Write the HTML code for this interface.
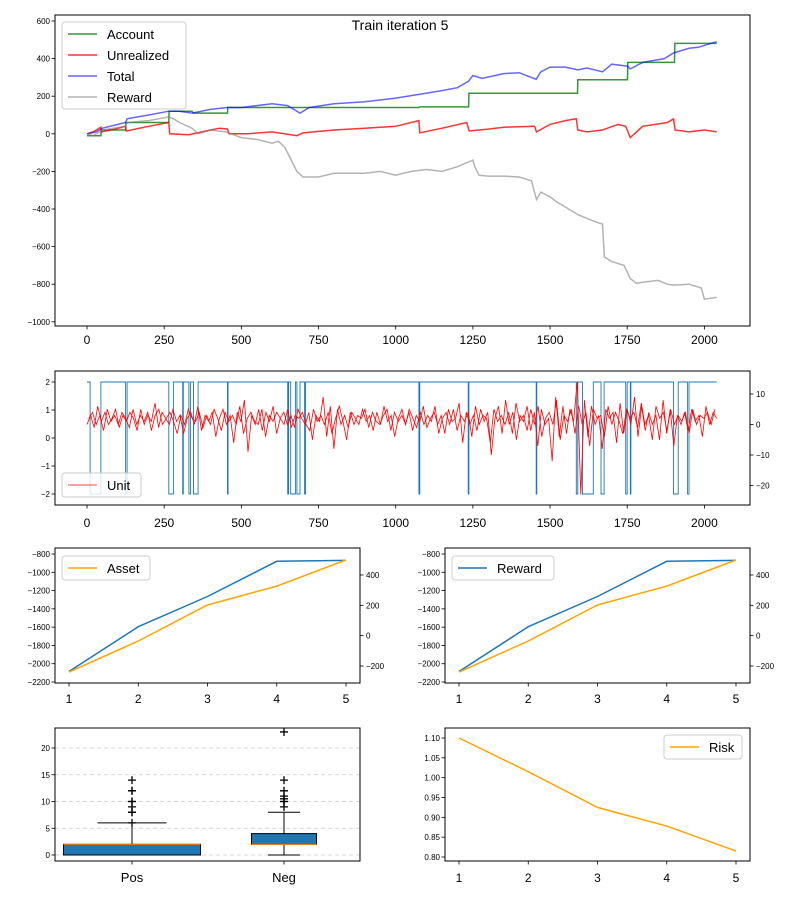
<!DOCTYPE html>
<html><head><meta charset="utf-8">
<style>
html,body{margin:0;padding:0;background:#fff;}
svg{display:block;font-family:"Liberation Sans","DejaVu Sans",sans-serif;}
</style></head>
<body>
<svg id="fig" width="800" height="900" viewBox="0 0 800 900" xmlns="http://www.w3.org/2000/svg">
<rect width="800" height="900" fill="#fff"/>
<text x="400" y="30" text-anchor="middle" font-size="14">Train iteration 5</text>
</svg>
<script>
// ---------- data ----------
const accountX = [0,45,46,125,126,265,266,340,345,455,456,1075,1078,1236,1237,1589,1590,1751,1752,1903,1904,2040];
const accountV = [-10,-10,20,20,60,60,120,120,110,110,140,140,143,143,216,216,287,287,380,380,481,481];
const unrealX = [0,20,45,47,90,125,127,200,265,268,330,400,430,455,460,520,600,680,700,800,900,1000,1075,1078,1150,1230,1238,1300,1350,1450,1456,1500,1550,1585,1590,1620,1670,1720,1745,1760,1800,1880,1900,1905,1950,2000,2040];
const unrealV = [0,10,35,10,25,40,15,40,60,0,-5,20,30,25,0,0,10,-10,5,20,30,40,70,5,30,60,15,25,35,40,10,50,70,80,20,10,20,50,40,-20,40,60,80,20,10,20,10];
const totalX = [0,30,50,100,125,130,200,265,300,340,400,455,500,600,650,690,720,800,900,1000,1078,1150,1200,1236,1250,1280,1350,1400,1455,1470,1500,1550,1590,1620,1670,1700,1750,1760,1800,1870,1900,1950,1980,2040];
const totalV = [0,10,30,50,60,80,100,120,120,110,130,140,140,160,150,110,140,160,170,190,210,230,245,280,310,295,320,325,290,330,355,355,340,350,330,370,360,345,380,400,430,455,460,490];
const rewardX = [0,20,50,125,130,200,265,280,300,340,360,400,450,500,550,600,620,640,680,700,750,800,900,950,1000,1050,1100,1150,1200,1250,1255,1270,1300,1350,1400,1440,1456,1470,1500,1520,1560,1590,1620,1650,1670,1676,1700,1740,1760,1780,1800,1850,1880,1900,1950,1990,2000,2040];
const rewardV = [0,-10,20,40,60,70,90,80,60,30,0,20,10,-20,-30,-50,-40,-70,-200,-230,-230,-210,-210,-200,-220,-200,-190,-200,-175,-140,-170,-220,-225,-225,-230,-250,-350,-310,-335,-360,-400,-430,-450,-470,-480,-655,-680,-700,-770,-795,-790,-780,-800,-805,-800,-820,-880,-870];
const yTicksTop = [600,400,200,0,-200,-400,-600,-800,-1000];
const xTicksTop = [0,250,500,750,1000,1250,1500,1750,2000];
// panel 2
const unitNegStart = [10,125,265,310,330,345,455,650,660,680,705,1075,1235,1455,1585,1605,1665,1745,1760,1900,1945];
const unitNegEnd =   [45,130,280,312,335,360,457,653,675,690,708,1078,1237,1457,1590,1640,1675,1750,1762,1915,1950];
const noiseV = [0,3,-1,6,1,4,0,2,5,-1,3,1,4,2,-2,5,0,3,1,7,-1,4,2,0,5,1,3,-3,2,4,0,6,-2,3,1,4,-4,2,5,0,3,-6,4,1,8,-9,3,0,5,-2,4,1,6,-3,2,4,0,3,-1,5,2,0,4,-5,3,1,9,-4,6,-8,5,0,3,-1,4,2,0,5,1,3,-2,4,0,6,1,3,-4,2,5,0,4,-2,3,1,6,-1,2,4,0,3,-3,5,1,2,7,-6,4,0,3,-2,5,1,4,-10,2,6,-3,8,0,4,-5,3,1,6,-2,4,-7,5,0,2,-12,9,-4,6,-3,5,1,14,-23,8,-4,6,0,3,-8,5,2,4,-6,7,-3,5,0,9,-4,6,-2,4,0,3,-5,8,-3,5,-7,3,0,4,-2,5,1,3,-4,6,0,4,2];
const noiseV2 = [2,4,0,3,-2,5,1,3,0,4,2,-1,5,0,3,1,4,-2,3,5,0,2,4,1,-3,3,0,5,2,1,4,-1,3,0,5,2,-2,4,1,3,0,6,-3,2,4,1,0,5,-4,3,1,4,2,0,5,-1,3,2,4,0,-2,5,1,3,0,4,-3,2,6,1,-5,4,0,3,2,5,-1,4,1,0,3,5,-2,4,1,3,0,5,2,-1,4,0,3,1,6,-3,2,4,0,5,-2,3,1,4,-4,6,0,3,2,-6,5,1,3,0,4,-3,7,1,3,-2,5,0,6,-4,2,4,0,8,-5,3,1,5,-3,6,0,4,-7,5,2,3,-4,6,0,4,1,-3,5,2,4,-1,7,0,3,-5,6,2,4,-2,5,0,3,1,4,-3,5,0,3,2,4,0,5];
const yTicksP2L = [2,1,0,-1,-2];
const yTicksP2R = [10,0,-10,-20];
// row 3
const iters = [1,2,3,4,5];
const rewardSum = [-2085,-1595,-1265,-880,-870];
const assetSum = [-240,-35,202,327,499];
const yTicksR3L = [-800,-1000,-1200,-1400,-1600,-1800,-2000,-2200];
const yTicksR3R = [400,200,0,-200];
// row 4
const boxLabels = ['Pos','Neg'];
const boxQ1 = [0,2], boxMed = [2,2], boxQ3 = [2,4], boxLo = [0,0], boxHi = [6,8];
const posOutliers = [6,8,8,9,10,10,12,12,14];
const negOutliers = [9,10,10,10.5,11,12,14,23];
const yTicksBox = [0,5,10,15,20];
const riskV = [1.10,1.015,0.925,0.878,0.815];
const yTicksRisk = [1.10,1.05,1.00,0.95,0.90,0.85,0.80];

// ---------- helpers ----------
const NS='http://www.w3.org/2000/svg';
const svg=document.getElementById('fig');
function mk(tag,attrs,parent){const e=document.createElementNS(NS,tag);for(const k in attrs)e.setAttribute(k,attrs[k]);(parent||svg).appendChild(e);return e;}
function txt(x,y,s,size,anchor,parent){const t=mk('text',{x:x,y:y,'font-size':size,'text-anchor':anchor||'middle',fill:'#000'},parent);t.textContent=s;return t;}
function fmt(v){return v<0?'\u2212'+Math.abs(v):String(v);}
function frame(x0,y0,x1,y1,name){const r=mk('rect',{x:x0,y:y0,width:x1-x0,height:y1-y0,fill:'none',stroke:'#000','stroke-width':1});}
function poly(xs,ys,fx,fy,attrs,name){const pts=xs.map((x,i)=>fx(x).toFixed(1)+','+fy(ys[i]).toFixed(1)).join(' ');const p=mk('polyline',Object.assign({points:pts,fill:'none'},attrs));return p;}
function xTicks(vals,fx,yb,labelY,size,labels){const g=mk('g',{});vals.forEach((v,i)=>{const x=fx(v);mk('line',{x1:x,x2:x,y1:yb,y2:yb+3.5,stroke:'#000','stroke-width':0.8},g);txt(x,labelY,labels?labels[i]:fmt(v),size,'middle',g);});}
function yTicksL(vals,fy,xl,size,f){const g=mk('g',{});vals.forEach(v=>{const y=fy(v);mk('line',{x1:xl-3.5,x2:xl,y1:y,y2:y,stroke:'#000','stroke-width':0.8},g);txt(xl-5,y+3,f?f(v):fmt(v),size,'end',g);});}
function yTicksR(vals,fy,xr,size){const g=mk('g',{});vals.forEach(v=>{const y=fy(v);mk('line',{x1:xr,x2:xr+3.5,y1:y,y2:y,stroke:'#000','stroke-width':0.8},g);txt(xr+6,y+3,fmt(v),size,'start',g);});}
function legend(x,y,w,entries,name){const g=mk('g',{});mk('rect',{x:x,y:y,width:w,height:entries.length*21+3,rx:3,fill:'#fff','fill-opacity':0.8,stroke:'#ccc'},g);entries.forEach((e,i)=>{const cy=y+12+i*21;mk('line',{x1:x+6,x2:x+35,y1:cy,y2:cy,stroke:e[1],'stroke-width':e[2]||1.5,'stroke-opacity':e[3]||1},g);txt(x+45,cy+5,e[0],13,'start',g);});}

// ---------- panel 1 ----------
const X1=v=>87+v*0.3087, Y1=v=>133.8-v*0.188;
poly(accountX,accountV,X1,Y1,{stroke:'green','stroke-opacity':0.8,'stroke-width':1.5},'account-line');
poly(unrealX,unrealV,X1,Y1,{stroke:'red','stroke-opacity':0.8,'stroke-width':1.5},'unrealized-line');
poly(totalX,totalV,X1,Y1,{stroke:'blue','stroke-opacity':0.6,'stroke-width':1.5},'total-line');
poly(rewardX,rewardV,X1,Y1,{stroke:'gray','stroke-opacity':0.6,'stroke-width':1.5},'reward-line');
frame(55,15,750,326,'top-plot-frame');
yTicksL(yTicksTop,Y1,55,8);
xTicks(xTicksTop,X1,326,344,12);
legend(62,22,124,[['Account','green',1.5,0.8],['Unrealized','red',1.5,0.8],['Total','blue',1.5,0.6],['Reward','gray',1.5,0.6]],'top-legend');

// ---------- panel 2 ----------
const YL2=v=>438-v*28, YR2=v=>424.5-v*3.05;
(function(){const xs=[0],ys=[2];unitNegStart.forEach((s,i)=>{xs.push(s,s,unitNegEnd[i],unitNegEnd[i]);ys.push(2,-2,-2,2);});xs.push(2040);ys.push(2);
poly(xs,ys,X1,YL2,{stroke:'#1f77b4','stroke-width':0.9},'unit-position-line');})();
const noiseX = noiseV.map((v,i)=>i*2040/(noiseV.length-1));
const noiseX2 = noiseV2.map((v,i)=>(i+0.5)*2040/(noiseV2.length));
poly(noiseX2,noiseV2,X1,YR2,{stroke:'red','stroke-width':0.8},'unit-reward-line-b');
poly(noiseX,noiseV,X1,YR2,{stroke:'red','stroke-width':0.8},'unit-reward-line');
frame(55,371,750,505,'unit-plot-frame');
yTicksL(yTicksP2L,YL2,55,8);
yTicksR(yTicksP2R,YR2,750,8);
xTicks(xTicksTop,X1,505,527,12);
legend(62,473,79,[['Unit','red',0.8,1]],'unit-legend');

// ---------- row 3 ----------
const YL3=v=>554-(v+800)*0.09143, YR3=v=>666-(v+200)*0.1517;
[[55,360,'asset'],[445,750,'reward']].forEach(([x0,x1,nm])=>{
  const X3=i=>x0+14+(i-1)*69.25;
  poly(iters,rewardSum,X3,YL3,{stroke:'#1f77b4','stroke-width':1.5},nm+'-panel-reward-line');
  poly(iters,assetSum,X3,YR3,{stroke:'orange','stroke-width':1.5},nm+'-panel-asset-line');
  frame(x0,548,x1,683,nm+'-plot-frame');
  yTicksL(yTicksR3L,YL3,x0,8);
  yTicksR(yTicksR3R,YR3,x1,8);
  xTicks(iters,X3,683,703,12);
  if(nm==='asset') legend(62,556,88,[['Asset','orange',1.5,1]],'asset-legend');
  else legend(452,556,102,[['Reward','#1f77b4',1.5,1]],'reward-legend');
});

// ---------- row 4 left: boxplot ----------
const YB=v=>855-v*5.35;
const boxCenters=[132,284], boxHalfW=[68.5,32.5], capHalfW=[34.5,16];
const gridG=mk('g',{});
yTicksBox.forEach(v=>mk('line',{x1:55,x2:360,y1:YB(v),y2:YB(v),stroke:'#ccc','stroke-dasharray':'4,3','stroke-width':0.7},gridG));
boxLabels.forEach((lab,i)=>{
  const cx=boxCenters[i],g=mk('g',{});
  
  
  mk('line',{x1:cx,x2:cx,y1:YB(boxQ3[i]),y2:YB(boxHi[i]),stroke:'#000'},g);
  mk('line',{x1:cx,x2:cx,y1:YB(boxQ1[i]),y2:YB(boxLo[i]),stroke:'#000'},g);
  mk('line',{x1:cx-capHalfW[i],x2:cx+capHalfW[i],y1:YB(boxHi[i]),y2:YB(boxHi[i]),stroke:'#000'},g);
  mk('line',{x1:cx-capHalfW[i],x2:cx+capHalfW[i],y1:YB(boxLo[i]),y2:YB(boxLo[i]),stroke:'#000'},g);
  mk('rect',{x:cx-boxHalfW[i],y:YB(boxQ3[i]),width:2*boxHalfW[i],height:Math.max(1,YB(boxQ1[i])-YB(boxQ3[i])),fill:'#1f77b4',stroke:'#000'},g);
  mk('line',{x1:cx-boxHalfW[i],x2:cx+boxHalfW[i],y1:YB(boxMed[i]),y2:YB(boxMed[i]),stroke:'#ff7f0e','stroke-width':1.2},g);
  (i===0?posOutliers:negOutliers).forEach(v=>{const y=YB(v);mk('path',{d:`M${cx-4},${y}H${cx+4}M${cx},${y-4}V${y+4}`,stroke:'#000','stroke-width':1.3},g);});
});
frame(55,728,360,861,'box-plot-frame');
yTicksL(yTicksBox,YB,55,8);
xTicks([0,1],i=>boxCenters[i],861,882,13,boxLabels);

// ---------- row 4 right: risk ----------
const XR=i=>459+(i-1)*69.25, YRk=v=>738+(1.10-v)*396.7;
poly(iters,riskV,XR,YRk,{stroke:'orange','stroke-width':1.5},'risk-line');
frame(445,728,750,861,'risk-plot-frame');
yTicksL(yTicksRisk,YRk,445,8,v=>v.toFixed(2));
xTicks(iters,XR,861,882,12);
legend(664,735,78,[['Risk','orange',1.5,1]],'risk-legend');
</script>
</body></html>
